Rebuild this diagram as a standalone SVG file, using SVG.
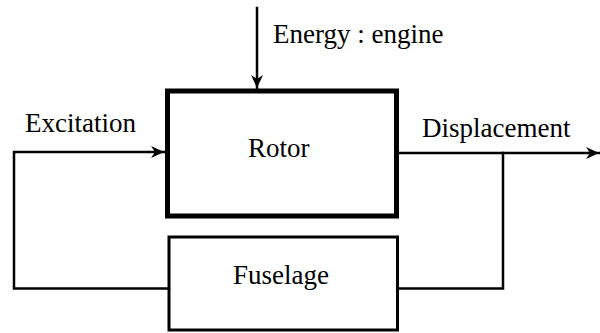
<svg xmlns="http://www.w3.org/2000/svg" width="600" height="333" viewBox="0 0 600 333">
<defs>
<style>
text{font-family:"Liberation Serif","Times New Roman",serif;font-size:27px;fill:#000}
.box{fill:#fff;stroke:#000}
.ln{fill:none;stroke:#000;stroke-width:2.5;stroke-linejoin:miter;stroke-linecap:square}
</style>
<marker id="ah" markerUnits="userSpaceOnUse" markerWidth="14" markerHeight="14" viewBox="0 0 14 14" refX="13" refY="7" orient="auto">
<path d="M0,1 L13,7 L0,13 L4,7 Z" fill="#000"/>
</marker>
</defs>
<g id="rotor">
<rect class="box" x="167.5" y="91" width="229" height="125" stroke-width="5"/>
<text x="248" y="157">Rotor</text>
</g>
<g id="fuselage">
<rect class="box" x="169" y="237" width="228.5" height="93" stroke-width="3"/>
<text x="233" y="284">Fuselage</text>
</g>
<g id="connectors">
<path class="ln" d="M257,8 L257,88" marker-end="url(#ah)"/>
<path class="ln" d="M169,288.5 L14,288.5 L14,152 L164,152" marker-end="url(#ah)"/>
<path class="ln" d="M399,153 L599,153" marker-end="url(#ah)"/>
<path class="ln" d="M503,153 L503,288.5 L399,288.5"/>
</g>
<g id="labels">
<text x="273" y="43">Energy : engine</text>
<text x="25" y="132">Excitation</text>
<text x="422" y="137">Displacement</text>
</g>
</svg>
